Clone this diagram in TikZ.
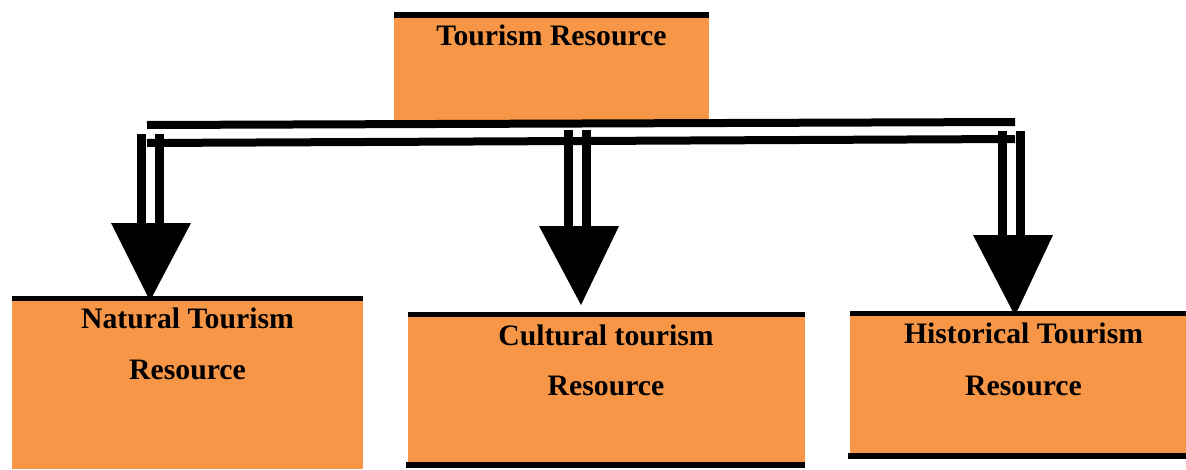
\documentclass[tikz,border=0pt]{standalone}
\usepackage{fontspec}
\setmainfont{Liberation Serif}
\definecolor{boxorange}{HTML}{F79646}
\begin{document}
\begin{tikzpicture}[x=1pt,y=-1pt,
  bar/.style={line width=6pt, black},
  link/.style={line width=8pt, black},
  stem/.style={line width=9pt, black},
  head/.style={fill=black},
  lbl/.style={font=\fontsize{29.7}{34}\selectfont\bfseries, anchor=base, inner sep=0pt},
  boxfill/.style={fill=boxorange, draw=none, inner sep=0pt, rectangle}]
\useasboundingbox (0,0) rectangle (1186,469);

% boxes
\node[boxfill, minimum width=315pt, minimum height=102pt] (top) at (551.5,69) {};
\node[boxfill, minimum width=351pt, minimum height=168pt] (nat) at (187.5,385) {};
\node[boxfill, minimum width=397pt, minimum height=145pt] (cul) at (606.5,389.5) {};
\node[boxfill, minimum width=336pt, minimum height=137pt] (his) at (1018,384.5) {};

% bars
\draw[bar] ([yshift=3pt]top.north west) -- ([yshift=3pt]top.north east);
\draw[bar, line width=5.5pt] ([yshift=2.5pt]nat.north west) -- ([yshift=2.5pt]nat.north east);
\draw[bar, line width=5.5pt] ([yshift=2.5pt]cul.north west) -- ([yshift=2.5pt]cul.north east);
\draw[bar] ([xshift=-2pt,yshift=-3pt]cul.south west) -- ([yshift=-3pt]cul.south east);
\draw[bar, line width=5.5pt] ([yshift=2.5pt]his.north west) -- ([yshift=2.5pt]his.north east);
\draw[bar] ([xshift=-2pt,yshift=-3pt]his.south west) -- ([yshift=-3pt]his.south east);

% labels
\node[lbl] (tTop) at (551.5,45) {Tourism Resource};
\node[lbl] (tNatA) at (187.5,328) {Natural Tourism};
\node[lbl] (tNatB) at (187.5,379) {Resource};
\node[lbl] (tCulA) at (606,345) {Cultural tourism};
\node[lbl] (tCulB) at (606,395) {Resource};
\node[lbl] (tHisA) at (1023.5,343) {Historical Tourism};
\node[lbl] (tHisB) at (1023.5,395) {Resource};

% double horizontal link
\coordinate (uL) at (147,125);
\coordinate (uR) at (1015,122);
\coordinate (lL) at (147,143);
\coordinate (lR) at (1015,139);
\draw[link] (uL) -- (uR);
\draw[link] (lL) -- (lR);

% stems
\coordinate (s1a) at (141.5,134); \coordinate (e1a) at (141.5,223.5);
\coordinate (s1b) at (159.5,134); \coordinate (e1b) at (159.5,223.5);
\coordinate (s2a) at (568.5,130); \coordinate (e2a) at (568.5,226.5);
\coordinate (s2b) at (586.5,130); \coordinate (e2b) at (586.5,226.5);
\coordinate (s3a) at (1002.5,131); \coordinate (e3a) at (1002.5,235.5);
\coordinate (s3b) at (1020.5,131); \coordinate (e3b) at (1020.5,235.5);
\draw[stem] (s1a) -- (e1a);
\draw[stem] (s1b) -- (e1b);
\draw[stem] (s2a) -- (e2a);
\draw[stem] (s2b) -- (e2b);
\draw[stem] (s3a) -- (e3a);
\draw[stem] (s3b) -- (e3b);

% arrowheads
\fill[head] (111,223) -- (191,223) -- (nat.north -| 150,0) -- cycle;
\fill[head] (539,226) -- (619,226) -- (581,305) -- cycle;
\fill[head] (973,235) -- (1053,235) -- (his.north -| 1015,0) -- cycle;
\end{tikzpicture}
\end{document}
